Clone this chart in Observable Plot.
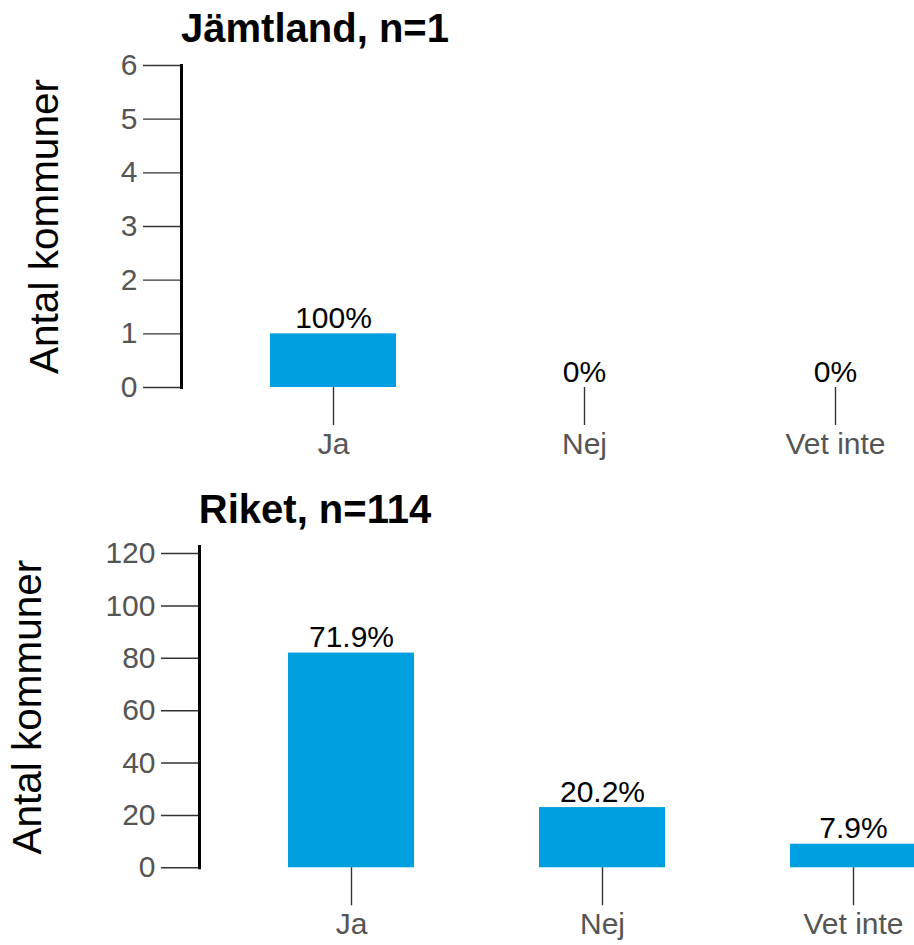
<!DOCTYPE html>
<html>
<head>
<meta charset="utf-8">
<script src="https://cdn.jsdelivr.net/npm/d3@7"></script>
<script src="https://cdn.jsdelivr.net/npm/@observablehq/plot@0.6"></script>
<style>
  html, body { margin: 0; padding: 0; background: white; overflow: hidden; }
  #wrap { position: relative; width: 914px; height: 945px; font-family: "Liberation Sans", Arial, sans-serif; }
  .title { position: absolute; left: 115px; width: 400px; text-align: center; font-size: 40px; line-height: 40px; font-weight: bold; color: #000; z-index: 2; }
  .panel { position: absolute; left: 0; z-index: 1; }
  .panel svg { overflow: hidden; background: transparent; }
</style>
</head>
<body>
<div id="wrap">
  <div class="title" style="top:8px">Jämtland, n=1</div>
  <div class="panel" id="p1" style="top:40px"></div>
  <div class="title" style="top:489px">Riket, n=114</div>
  <div class="panel" id="p2" style="top:520px"></div>
</div>
<script>
const categories = ["Ja", "Nej", "Vet inte"];
const jamtlandCounts = [1, 0, 0];
const jamtlandPct = ["100%", "0%", "0%"];
const jamtlandTicks = [0, 1, 2, 3, 4, 5, 6];
const riketCounts = [82, 23, 9];
const riketPct = ["71.9%", "20.2%", "7.9%"];
const riketTicks = [0, 20, 40, 60, 80, 100, 120];
const yLabel = "Antal kommuner";

function panel({counts, pcts, ticks, yMax, height, marginTop, marginBottom, marginLeft, labelDx}) {
  const data = categories.map((c, i) => ({cat: c, n: counts[i], pct: pcts[i]}));
  const font = "Liberation Sans, Arial, sans-serif";
  return Plot.plot({
    width: 914,
    height,
    marginTop,
    marginBottom,
    marginLeft,
    marginRight: 0,
    style: {fontFamily: font, background: "transparent", overflow: "hidden"},
    x: {domain: categories, range: [marginLeft, marginLeft + 805], paddingInner: 0.5, paddingOuter: 0.35, align: 0.5, axis: null},
    y: {domain: [0, yMax], axis: null},
    marks: [
      Plot.barY(data, {x: "cat", y: "n", fill: "#009fe0"}),
      Plot.text(data, {x: "cat", y: "n", text: "pct", lineAnchor: "bottom", dy: -6, fontSize: 30, fill: "black"}),
      Plot.axisY({ticks, tickSize: 38, tickPadding: 6, fontSize: 30, stroke: "#333", strokeWidth: 1.4, fill: "#555", label: null, tickFormat: d => String(d)}),
      Plot.axisX({tickSize: 38, tickPadding: 7, fontSize: 30, stroke: "#333", strokeWidth: 1.4, fill: "#555", label: null}),
      Plot.frame({anchor: "left", stroke: "black", strokeWidth: 3}),
      Plot.text([yLabel], {frameAnchor: "left", text: d => d, rotate: -90, textAnchor: "middle", lineAnchor: "middle", dx: labelDx, fontSize: 40.5, fill: "black"})
    ]
  });
}

document.getElementById("p1").appendChild(panel({
  counts: jamtlandCounts, pcts: jamtlandPct, ticks: jamtlandTicks, yMax: 6,
  height: 430, marginTop: 25, marginBottom: 83, marginLeft: 181, labelDx: -136
}));
document.getElementById("p2").appendChild(panel({
  counts: riketCounts, pcts: riketPct, ticks: riketTicks, yMax: 122.7,
  height: 425, marginTop: 26, marginBottom: 77.7, marginLeft: 199, labelDx: -171
}));
</script>
</body>
</html>
